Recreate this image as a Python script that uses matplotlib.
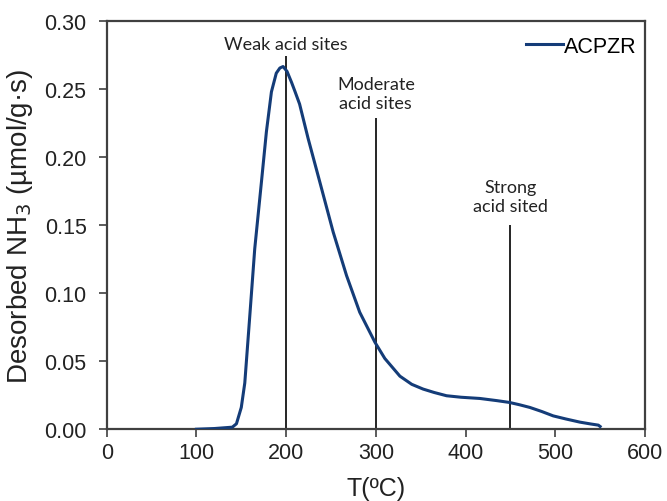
import numpy as np
import matplotlib
matplotlib.use("Agg")
import matplotlib.pyplot as plt

# TPD curve
temp = [100, 120, 140, 144.6, 150, 153.9, 159.5, 165, 172.5, 178, 183.6, 189, 193, 196.6,
        201, 206, 210, 215, 224.5, 237.5, 252.4, 267.3, 282, 299, 310, 326.8, 340, 352.7,
        365, 378.8, 395, 416, 435, 448.7, 460, 471.7, 485, 497.7, 512, 527.5, 540, 548, 550]
nh3 = [0.0, 0.0005, 0.0015, 0.004, 0.016, 0.034, 0.0835, 0.1327, 0.182, 0.2187, 0.248, 0.2617,
       0.2655, 0.2666, 0.263, 0.255, 0.248, 0.239, 0.2137, 0.1818, 0.145, 0.113, 0.086, 0.0639,
       0.052, 0.039, 0.033, 0.0295, 0.027, 0.0246, 0.0235, 0.0226, 0.021, 0.0197, 0.018, 0.016,
       0.013, 0.0098, 0.0075, 0.0052, 0.0038, 0.003, 0.002]

site_temp = [200, 300, 450]
site_top = [0.274, 0.229, 0.150]
site_labels = ["Weak acid sites", "Moderate\nacid sites", "Strong\nacid sited"]
label_y = [0.283, 0.247, 0.171]

plt.rcParams['font.family'] = ['Liberation Sans', 'DejaVu Sans']

fig = plt.figure(figsize=(6.67, 5.02), dpi=100)
ax = fig.add_axes([0.160, 0.143, 0.807, 0.813])

ax.plot(temp, nh3, color='#143c78', lw=2.2, label='ACPZR', zorder=3)
ax.vlines(site_temp, 0, site_top, color='black', lw=1.2, zorder=2)
for xt, yt, lab in zip(site_temp, label_y, site_labels):
    ax.text(xt, yt, lab, ha='center', va='center', fontsize=13, color='#222222',
            family=['Lato', 'DejaVu Sans'], linespacing=1.25)

ax.set_xlim(0, 600)
ax.set_ylim(0, 0.30)
ax.set_xticks(np.arange(0, 601, 100))
ax.set_yticks(np.arange(0, 0.301, 0.05))
ax.yaxis.set_major_formatter(matplotlib.ticker.FormatStrFormatter('%.2f'))
ax.tick_params(direction='out', length=5.5, width=1.2, labelsize=15.5, color='#404040',
               labelcolor='#222222')
ax.tick_params(axis='x', pad=4)
ax.tick_params(axis='y', pad=9)
for s in ax.spines.values():
    s.set_linewidth(1.6)
    s.set_color('#404040')

ax.set_xlabel('T(ºC)', fontsize=18, color='#222222')
ax.xaxis.set_label_coords(0.5, -0.115)
ax.set_ylabel('Desorbed NH$_3$ (µmol/g·s)', fontsize=20, color='#222222')
ax.yaxis.set_label_coords(-0.134, 0.5)

ax.legend(loc='upper right', bbox_to_anchor=(1.0, 0.985), frameon=False, fontsize=15.5,
          handlelength=1.7, handletextpad=0.05, borderaxespad=0.0)

fig.savefig('out.png', dpi=100)
